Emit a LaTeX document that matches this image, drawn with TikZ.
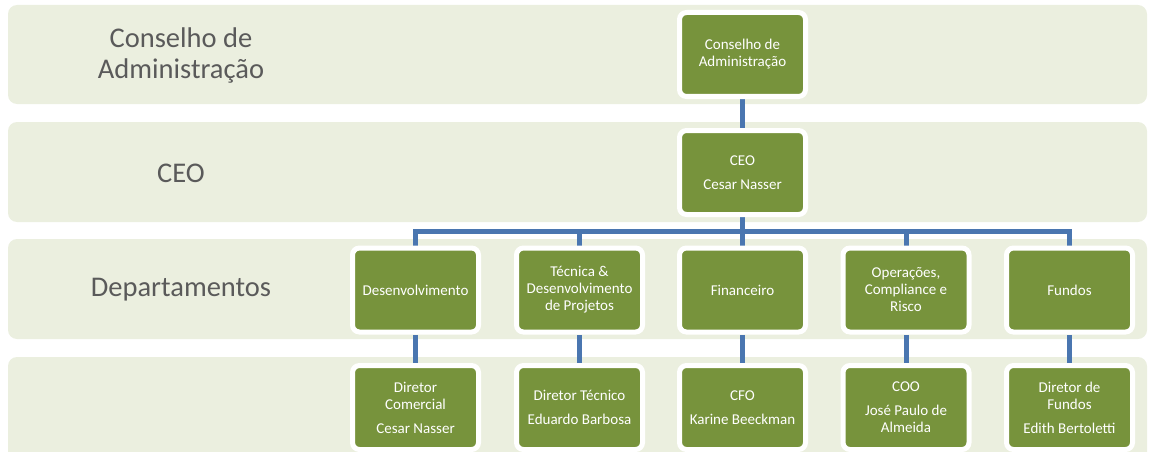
\documentclass[tikz,border=0pt]{standalone}
\usepackage{fontspec}
\setmainfont{Carlito}
\usetikzlibrary{backgrounds,calc}
\definecolor{bandgreen}{HTML}{EBEFDF}
\definecolor{boxgreen}{HTML}{77933C}
\definecolor{linkblue}{HTML}{4A76B0}
\definecolor{labelgray}{HTML}{5A5A5A}
\tikzset{
  band/.style={fill=bandgreen, rounded corners=9pt},
  orgbox/.style={draw=white, line width=5pt, fill=boxgreen, rounded corners=7pt,
    minimum width=126pt, minimum height=84pt, inner sep=0pt, text=white,
    align=center, font=\fontsize{15}{17}\selectfont},
  rowlabel/.style={text=labelgray, align=center, font=\fontsize{28.5}{31}\selectfont},
  link/.style={draw=linkblue, line width=5pt},
}
\begin{document}
\begin{tikzpicture}[x=1pt,y=-1pt]
\useasboundingbox (0,0) rectangle (1149,452);
% bands
\begin{scope}[on background layer]
\fill[band] (8,5) rectangle (1147,104);
\fill[band] (8,122) rectangle (1147,222);
\fill[band] (8,239) rectangle (1147,339);
\fill[band] (8,357) rectangle (1147,462);
\end{scope}
% row labels
\node[rowlabel] (lboard) at (181,55) {Conselho de\\Administração};
\node[rowlabel] (lceo) at (181,173) {CEO};
\node[rowlabel] (ldep) at (181,290) {Departamentos};
% boxes
\node[orgbox] (board) at (742.5,54.5) {Conselho de\\Administração};
\node[orgbox] (ceo) at (742.5,172.5) {CEO\\[7pt]Cesar Nasser};
\node[orgbox] (dev) at (415.5,290) {Desenvolvimento};
\node[orgbox] (tec) at (579.5,290) {Técnica \&\\Desenvolvimento\\de Projetos};
\node[orgbox] (fin) at (742.5,290) {Financeiro};
\node[orgbox] (ops) at (906,290) {Operações,\\Compliance e\\Risco};
\node[orgbox] (fun) at (1069.5,290) {Fundos};
\node[orgbox] (ddev) at (415.5,407.5) {Diretor\\Comercial\\[7pt]Cesar Nasser};
\node[orgbox] (dtec) at (579.5,407.5) {Diretor Técnico\\[7pt]Eduardo Barbosa};
\node[orgbox] (dfin) at (742.5,407.5) {CFO\\[7pt]Karine Beeckman};
\node[orgbox] (dops) at (906,407.5) {COO\\[7pt]José Paulo de\\Almeida};
\node[orgbox] (dfun) at (1069.5,407.5) {Diretor de\\Fundos\\[7pt]Edith Bertoletti};
\coordinate (bus) at (742.5,231);
% connectors
\begin{scope}[on background layer]
\draw[link] (board) -- (ceo);
\draw[link] (ceo) -- (bus);
\foreach \d in {dev,tec,fin,ops,fun}
  \draw[link] (bus) -| (\d);
\foreach \d in {dev,tec,fin,ops,fun}
  \draw[link] (\d) -- (d\d);
\end{scope}
\end{tikzpicture}
\end{document}
